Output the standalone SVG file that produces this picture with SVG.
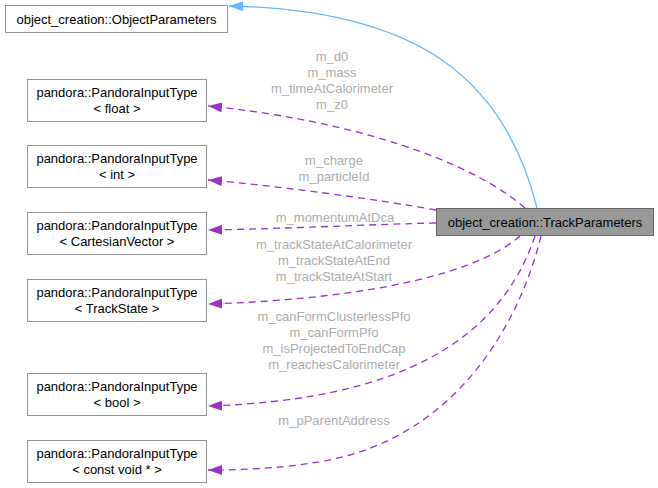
<svg xmlns="http://www.w3.org/2000/svg" width="658" height="488" viewBox="0 0 658 488">
<style>
text{font-family:"Liberation Sans",Arial,sans-serif;font-size:13px}
.node rect{fill:#fff;stroke:#929292;stroke-width:1}
.node text{fill:#000;text-anchor:middle}
.lbl{fill:#acacac;text-anchor:middle}
.use{fill:none;stroke:#9a32cd;stroke-width:1.3;stroke-dasharray:7,5}
.inh{fill:none;stroke:#63b8ff;stroke-width:1.3}
</style>
<defs>
<marker id="ap" viewBox="0 0 14 10" refX="14" refY="5" markerWidth="14" markerHeight="10" markerUnits="userSpaceOnUse" orient="auto"><path d="M0,0 L14,5 L0,10 z" fill="#9a32cd"/></marker>
<marker id="ab" viewBox="0 0 14 10" refX="14" refY="5" markerWidth="14" markerHeight="10" markerUnits="userSpaceOnUse" orient="auto"><path d="M0,0 L14,5 L0,10 z" fill="#63b8ff"/></marker>
</defs>
<g id="edges">
<path class="inh" d="M537,208 C505,80 420,10 229,6" marker-end="url(#ab)"/>
<path class="use" d="M525,208 C470,160 350,120 208,106" marker-end="url(#ap)"/>
<path class="use" d="M436,210 C380,200 280,186 208,180" marker-end="url(#ap)"/>
<path class="use" d="M436,223 C380,224 280,229 208,230" marker-end="url(#ap)"/>
<path class="use" d="M520,236 C470,280 340,300 208,304" marker-end="url(#ap)"/>
<path class="use" d="M535,236 C500,340 400,400 208,406" marker-end="url(#ap)"/>
<path class="use" d="M541,236 C523,310 470,420 350,455 C310,466 260,470 208,470" marker-end="url(#ap)"/>
</g>
<g id="labels">
<text class="lbl" x="332" y="61">m_d0</text>
<text class="lbl" x="332" y="77">m_mass</text>
<text class="lbl" x="332" y="93">m_timeAtCalorimeter</text>
<text class="lbl" x="332" y="109">m_z0</text>
<text class="lbl" x="334" y="165">m_charge</text>
<text class="lbl" x="334" y="181">m_particleId</text>
<text class="lbl" x="335" y="222">m_momentumAtDca</text>
<text class="lbl" x="334" y="249">m_trackStateAtCalorimeter</text>
<text class="lbl" x="334" y="265">m_trackStateAtEnd</text>
<text class="lbl" x="334" y="281">m_trackStateAtStart</text>
<text class="lbl" x="334" y="321">m_canFormClusterlessPfo</text>
<text class="lbl" x="334" y="337">m_canFormPfo</text>
<text class="lbl" x="334" y="353">m_isProjectedToEndCap</text>
<text class="lbl" x="334" y="369">m_reachesCalorimeter</text>
<text class="lbl" x="334" y="425">m_pParentAddress</text>
</g>
<g id="n_track" class="node"><rect x="436.5" y="208.5" width="217" height="27" style="fill:#999;stroke:#666"/><text x="545" y="227">object_creation::TrackParameters</text></g>
<g id="n_objparams" class="node"><rect x="5.5" y="5.5" width="222" height="27"/><text x="116.5" y="24">object_creation::ObjectParameters</text></g>
<g id="n_float" class="node"><rect x="27.5" y="79.5" width="179" height="42"/><text x="117" y="97">pandora::PandoraInputType</text><text x="117" y="113">&lt; float &gt;</text></g>
<g id="n_int" class="node"><rect x="27.5" y="145.5" width="179" height="42"/><text x="117" y="163">pandora::PandoraInputType</text><text x="117" y="179">&lt; int &gt;</text></g>
<g id="n_cart" class="node"><rect x="27.5" y="212.5" width="179" height="42"/><text x="117" y="230">pandora::PandoraInputType</text><text x="117" y="246">&lt; CartesianVector &gt;</text></g>
<g id="n_trackstate" class="node"><rect x="27.5" y="279.5" width="179" height="42"/><text x="117" y="297">pandora::PandoraInputType</text><text x="117" y="313">&lt; TrackState &gt;</text></g>
<g id="n_bool" class="node"><rect x="27.5" y="373.5" width="179" height="42"/><text x="117" y="391">pandora::PandoraInputType</text><text x="117" y="407">&lt; bool &gt;</text></g>
<g id="n_void" class="node"><rect x="27.5" y="440.5" width="179" height="42"/><text x="117" y="458">pandora::PandoraInputType</text><text x="117" y="474">&lt; const void * &gt;</text></g>
</svg>
